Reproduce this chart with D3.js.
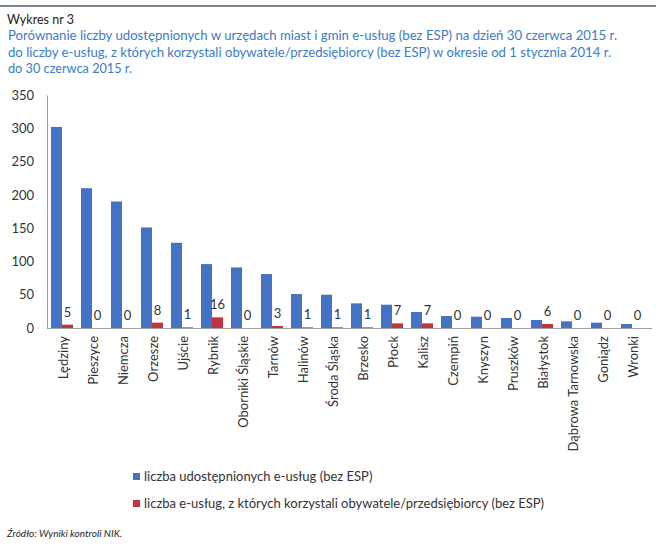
<!DOCTYPE html>
<html>
<head>
<meta charset="utf-8">
<script src="https://cdn.jsdelivr.net/npm/d3@7"></script>
<style>
    body { margin: 0; background: #fff; }
    text { font-family: Lato, "Open Sans", sans-serif; }
</style>
</head>
<body>
<div id="chart"></div>
<script>
// Data
const cities = ['Lędziny', 'Pieszyce', 'Niemcza', 'Orzesze', 'Ujście', 'Rybnik', 'Oborniki Śląskie',
    'Tarnów', 'Halinów', 'Środa Śląska', 'Brzesko', 'Płock', 'Kalisz', 'Czempiń', 'Knyszyn',
    'Pruszków', 'Białystok', 'Dąbrowa Tarnowska', 'Goniądz', 'Wronki'];
const offered = [302, 210, 190, 151, 128, 96, 91, 81, 51, 50, 37, 35, 24, 18, 17, 15, 12, 10, 8, 6];
const used = [5, 0, 0, 8, 1, 16, 0, 3, 1, 1, 1, 7, 7, 0, 0, 0, 6, 0, 0, 0];
const yTicks = [0, 50, 100, 150, 200, 250, 300, 350];
const seriesNames = ['liczba udostępnionych e-usług (bez ESP)',
    'liczba e-usług, z których korzystali obywatele/przedsiębiorcy (bez ESP)'];
const titleLines = [
    'Porównanie liczby udostępnionych w urzędach miast i gmin e-usług (bez ESP) na dzień 30 czerwca 2015 r.',
    'do liczby e-usług, z których korzystali obywatele/przedsiębiorcy (bez ESP) w okresie od 1  stycznia 2014 r.',
    'do 30 czerwca 2015 r.'
];

const W = 662, H = 548;
const colors = {blue: '#4472C4', red: '#C0353D', title: '#3B7CC4', text: '#333', axis: '#a0a0a0'};
const plot = {left: 47, right: 652, top: 95, bottom: 328};

const svg = d3.select('#chart').append('svg')
    .attr('width', W)
    .attr('height', H);

// Header rule and titles
svg.append('line')
    .attr('x1', 0).attr('x2', 656)
    .attr('y1', 6).attr('y2', 6)
    .attr('stroke', '#7d8794')
    .attr('stroke-width', 2);

svg.append('text')
    .attr('x', 7).attr('y', 24)
    .attr('textLength', 67).attr('lengthAdjust', 'spacingAndGlyphs')
    .style('font-size', '12.5px')
    .style('fill', '#222')
    .text('Wykres nr 3');

const titleWidths = [609, 603, 124];
svg.selectAll('text.title')
    .data(titleLines)
    .enter()
    .append('text')
    .attr('class', 'title')
    .attr('x', 8)
    .attr('y', (d, i) => 40 + i * 16.5)
    .attr('textLength', (d, i) => titleWidths[i])
    .attr('lengthAdjust', 'spacingAndGlyphs')
    .style('font-size', '12.5px')
    .style('fill', colors.title)
    .text(d => d);

// Scales
const x = d3.scaleBand()
    .domain(cities)
    .range([plot.left, plot.left + 30 * cities.length]);

const sub = d3.scaleBand()
    .domain(['offered', 'used'])
    .range([4, x.bandwidth() - 4]);

const y = d3.scaleLinear()
    .domain([0, 350])
    .range([plot.bottom, plot.top]);

// Axes
const yAxis = svg.append('g')
    .attr('transform', `translate(${plot.left},0)`)
    .call(d3.axisLeft(y).tickValues(yTicks).tickSize(0).tickPadding(13));
yAxis.select('.domain').attr('stroke', colors.axis);
yAxis.selectAll('text')
    .style('font-size', '13px')
    .style('fill', colors.text);

const xAxis = svg.append('g')
    .attr('transform', `translate(0,${plot.bottom})`)
    .call(d3.axisBottom(x).tickSize(0));
xAxis.select('.domain')
    .attr('d', `M${plot.left},0.5H${plot.right}`)
    .attr('stroke', colors.axis);
xAxis.selectAll('text')
    .attr('transform', 'rotate(-90)')
    .attr('x', -8)
    .attr('y', 1)
    .attr('dy', '0.35em')
    .style('text-anchor', 'end')
    .style('font-size', '13px')
    .style('fill', colors.text);

// Bars
const groups = svg.selectAll('g.city')
    .data(cities.map((c, i) => ({city: c, offered: offered[i], used: used[i]})))
    .enter()
    .append('g')
    .attr('class', 'city')
    .attr('transform', d => `translate(${x(d.city)},0)`);

groups.append('rect')
    .attr('x', sub('offered'))
    .attr('y', d => y(d.offered))
    .attr('width', sub.bandwidth())
    .attr('height', d => y(0) - y(d.offered))
    .attr('fill', colors.blue);

groups.append('rect')
    .attr('x', sub('used'))
    .attr('y', d => y(d.used))
    .attr('width', sub.bandwidth())
    .attr('height', d => y(0) - y(d.used))
    .attr('fill', colors.red);

// Value labels for the second series
groups.append('text')
    .attr('x', sub('used') + sub.bandwidth() / 2)
    .attr('y', d => y(d.used) - 8)
    .attr('text-anchor', 'middle')
    .style('font-size', '13px')
    .style('fill', colors.text)
    .text(d => d.used);

// Legend
const legend = svg.selectAll('g.legend')
    .data(seriesNames)
    .enter()
    .append('g')
    .attr('class', 'legend')
    .attr('transform', (d, i) => `translate(133,${473 + i * 27})`);

legend.append('rect')
    .attr('width', 7)
    .attr('height', 7)
    .attr('fill', (d, i) => i === 0 ? colors.blue : colors.red);

legend.append('text')
    .attr('x', 11)
    .attr('y', 7.5)
    .style('font-size', '13px')
    .style('fill', colors.text)
    .text(d => d);

// Source note
svg.append('text')
    .attr('x', 7).attr('y', 537)
    .style('font-size', '10px')
    .style('font-style', 'italic')
    .style('fill', '#222')
    .text('Źródło: Wyniki kontroli NIK.');
</script>
</body>
</html>
